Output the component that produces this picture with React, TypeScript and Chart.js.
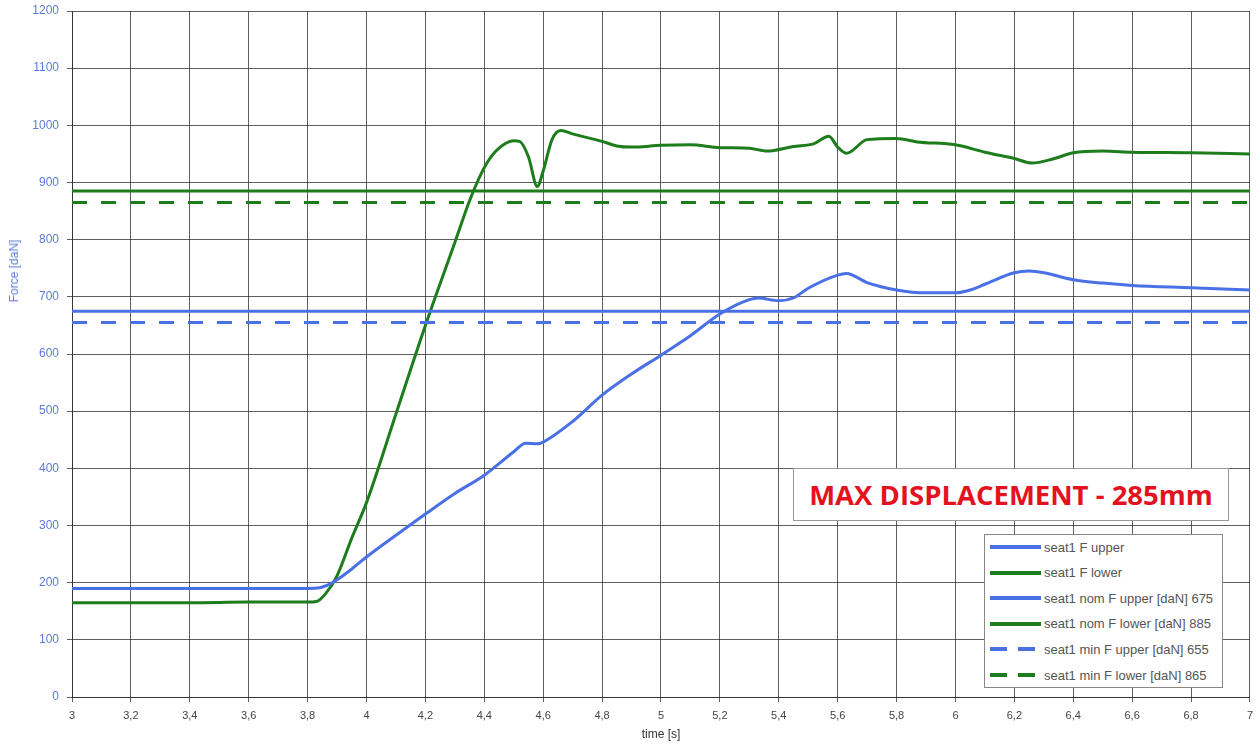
import React, { useEffect, useRef } from "react";
import { Chart, registerables } from "chart.js";

Chart.register(...registerables);

// ---- data ----
const upperTime = [3, 3.2, 3.4, 3.6, 3.8, 3.84, 3.87, 3.9, 3.95, 4.0, 4.1, 4.2, 4.3, 4.4, 4.5, 4.54, 4.58, 4.6, 4.7, 4.8, 4.9, 5.0, 5.1, 5.2, 5.3, 5.33, 5.4, 5.45, 5.5, 5.6, 5.63, 5.7, 5.8, 5.9, 6.0, 6.05, 6.1, 6.2, 6.25, 6.3, 6.4, 6.5, 6.6, 6.8, 7.0];
const upperForce = [190, 190, 190, 190, 190, 191, 196, 205, 224, 245, 283, 320, 356, 388, 429, 444, 443, 446, 482, 528, 565, 598, 632, 670, 695, 698, 693, 698, 715, 738, 741, 725, 712, 707, 707, 712, 722, 742, 745, 742, 730, 724, 720, 716, 712];

const lowerTime = [3, 3.2, 3.4, 3.6, 3.8, 3.83, 3.86, 3.9, 3.95, 4.0, 4.1, 4.2, 4.3, 4.35, 4.38, 4.41, 4.45, 4.5, 4.52, 4.55, 4.58, 4.6, 4.63, 4.66, 4.7, 4.8, 4.85, 4.9, 5.0, 5.1, 5.2, 5.3, 5.36, 5.45, 5.52, 5.57, 5.6, 5.63, 5.7, 5.8, 5.87, 6.0, 6.1, 6.2, 6.26, 6.33, 6.4, 6.5, 6.6, 6.8, 7.0];
const lowerForce = [165, 165, 165, 166, 166, 167, 180, 212, 278, 340, 495, 650, 795, 868, 905, 935, 960, 973, 972, 945, 893, 920, 975, 991, 985, 972, 964, 962, 965, 966, 961, 960, 955, 963, 968, 981, 962, 951, 975, 977, 971, 966, 953, 942, 934, 941, 952, 955, 953, 952, 950];

const limitTime = [3, 7];
const nomUpper = 675;
const nomLower = 885;
const minUpper = 655;
const minLower = 865;

const seriesLabels = [
  "seat1 F upper",
  "seat1 F lower",
  "seat1 nom F upper [daN] 675",
  "seat1 nom F lower [daN] 885",
  "seat1 min F upper [daN] 655",
  "seat1 min F lower [daN] 865",
];

const xTickValues = [3, 3.2, 3.4, 3.6, 3.8, 4, 4.2, 4.4, 4.6, 4.8, 5, 5.2, 5.4, 5.6, 5.8, 6, 6.2, 6.4, 6.6, 6.8, 7];
const yTickValues = [0, 100, 200, 300, 400, 500, 600, 700, 800, 900, 1000, 1100, 1200];

const xTitle = "time [s]";
const yTitle = "Force [daN]";
const annotationText = "MAX DISPLACEMENT - 285mm";

// ---- styles ----
const BLUE = "#4a70e6";
const GREEN = "#1d7d1d";
const GRID = "rgba(40,40,40,0.75)";
const YBLUE = "#5b7bd8";

const toPoints = (xs: number[], ys: number[]) => xs.map((x, i) => ({ x, y: ys[i] }));
const flat = (v: number) => limitTime.map((x) => ({ x, y: v }));

const legendStyles = [
  { color: BLUE, dash: false },
  { color: GREEN, dash: false },
  { color: BLUE, dash: false },
  { color: GREEN, dash: false },
  { color: BLUE, dash: true },
  { color: GREEN, dash: true },
];

export default function App() {
  const ref = useRef<HTMLCanvasElement | null>(null);

  useEffect(() => {
    if (!ref.current) return;
    Chart.defaults.font.family = "'Liberation Sans', Arial, sans-serif";
    const common = { pointRadius: 0, borderWidth: 3, fill: false };
    const chart = new Chart(ref.current, {
      type: "line",
      data: {
        datasets: [
          { ...common, label: seriesLabels[2], data: flat(nomUpper), borderColor: BLUE },
          { ...common, label: seriesLabels[3], data: flat(nomLower), borderColor: GREEN },
          { ...common, label: seriesLabels[4], data: flat(minUpper), borderColor: BLUE, borderDash: [15, 14] },
          { ...common, label: seriesLabels[5], data: flat(minLower), borderColor: GREEN, borderDash: [15, 14] },
          { ...common, label: seriesLabels[0], data: toPoints(upperTime, upperForce), borderColor: BLUE, cubicInterpolationMode: "monotone" },
          { ...common, label: seriesLabels[1], data: toPoints(lowerTime, lowerForce), borderColor: GREEN, cubicInterpolationMode: "monotone" },
        ] as any,
      },
      options: {
        animation: false,
        responsive: false,
        maintainAspectRatio: false,
        layout: { padding: { top: 11, right: 6, left: 0, bottom: 0 } },
        plugins: { legend: { display: false }, tooltip: { enabled: false } },
        scales: {
          x: {
            type: "linear",
            min: 3,
            max: 7,
            afterBuildTicks: (s: any) => {
              s.ticks = xTickValues.map((v) => ({ value: v }));
            },
            afterFit: (s: any) => {
              s.height = 47;
            },
            grid: { color: GRID, lineWidth: 1, tickLength: 5, tickColor: GRID },
            border: { color: GRID },
            ticks: {
              color: "#444",
              font: { size: 11 },
              padding: 7,
              maxRotation: 0,
              autoSkip: false,
              callback: (v: any) => String(Math.round(Number(v) * 10) / 10).replace(".", ","),
            },
            title: { display: true, text: xTitle, color: "#333", font: { size: 12 }, padding: { top: 0, bottom: 2 } },
          },
          y: {
            type: "linear",
            min: 0,
            max: 1200,
            afterBuildTicks: (s: any) => {
              s.ticks = yTickValues.map((v) => ({ value: v }));
            },
            afterFit: (s: any) => {
              s.width = 72;
              s.paddingTop = 0;
              s.paddingBottom = 0;
            },
            grid: { color: GRID, lineWidth: 1, tickLength: 5, tickColor: GRID },
            border: { color: GRID },
            ticks: { color: YBLUE, font: { size: 12 }, padding: 8, callback: (v: any) => String(v) },
          },
        },
      } as any,
    });
    return () => chart.destroy();
  }, []);

  return (
    <div style={{ position: "fixed", left: 0, top: 0, width: 1260, height: 744, background: "#fff" }}>
      <canvas ref={ref} width={1260} height={744} style={{ position: "absolute", left: 0, top: 0, width: 1260, height: 744 }} />
      <div
        style={{
          position: "absolute",
          left: 14,
          top: 271,
          transform: "translate(-50%, -50%) rotate(-90deg)",
          whiteSpace: "nowrap",
          color: YBLUE,
          fontFamily: "'Liberation Sans', Arial, sans-serif",
          fontSize: 12,
        }}
      >
        {yTitle}
      </div>
      <div
        style={{
          position: "absolute",
          left: 793,
          top: 468,
          width: 436,
          height: 53,
          boxSizing: "border-box",
          background: "#fff",
          border: "1px solid #999",
          display: "flex",
          alignItems: "center",
          justifyContent: "center",
          color: "#e4121e",
          fontFamily: "'Open Sans', sans-serif",
          fontWeight: 700,
          fontSize: 27.5,
          whiteSpace: "nowrap",
        }}
      >
        {annotationText}
      </div>
      <div
        style={{
          position: "absolute",
          left: 984,
          top: 534,
          width: 239,
          height: 154,
          boxSizing: "border-box",
          background: "#fff",
          border: "1px solid #888",
          fontFamily: "'Liberation Sans', Arial, sans-serif",
          fontSize: 13,
          color: "#555",
        }}
      >
        {seriesLabels.map((lab, i) => (
          <div key={i} style={{ position: "absolute", left: 5, top: 4 + i * 25.6, height: 16, display: "flex", alignItems: "center" }}>
            <svg width={51} height={6} style={{ marginRight: 3 }}>
              <line
                x1={0}
                y1={3}
                x2={51}
                y2={3}
                stroke={legendStyles[i].color}
                strokeWidth={4}
                strokeDasharray={legendStyles[i].dash ? "17 11" : undefined}
              />
            </svg>
            <span>{lab}</span>
          </div>
        ))}
      </div>
    </div>
  );
}
